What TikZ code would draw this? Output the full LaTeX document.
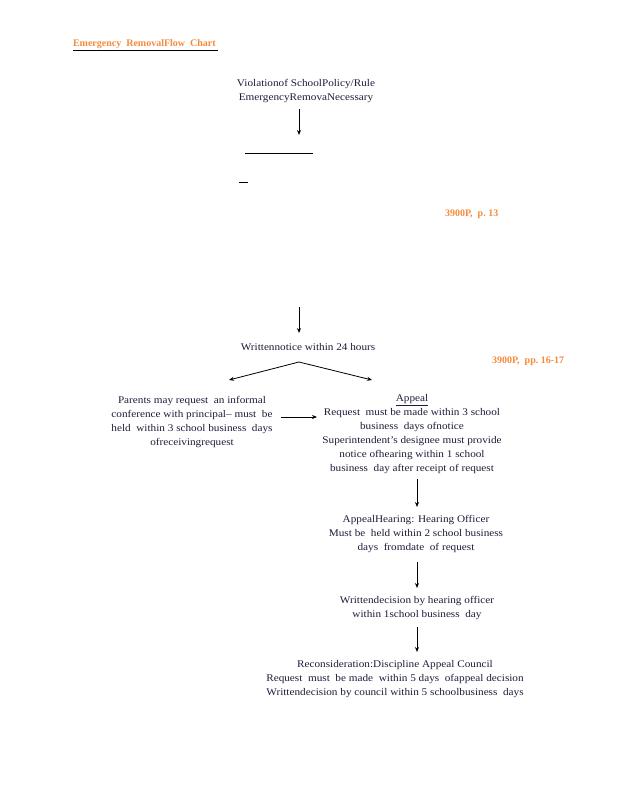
\documentclass[tikz,border=0pt]{standalone}
\usepackage{fontspec}
\setmainfont{Liberation Serif}
\newfontfamily\widefont[FakeStretch=1.1,Ligatures=TeX]{Liberation Serif}
\usetikzlibrary{arrows.meta}
\definecolor{txt}{HTML}{1C1C3A}
\definecolor{ora}{HTML}{F58A3C}
\tikzset{
  every node/.style={inner sep=0pt, outer sep=0pt},
  lbl/.style={text=txt, font=\widefont\fontsize{10.2}{14}\selectfont, align=center},
  ref/.style={text=ora, font=\fontsize{10}{14}\selectfont\bfseries, anchor=west},
  arr/.style={draw=black, line width=0.8pt, -{Stealth[length=5pt,width=4pt]}},
  rule/.style={draw=black, line width=0.8pt}
}
\begin{document}
\begin{tikzpicture}[x=1pt,y=-1pt]
\useasboundingbox (0,0) rectangle (618,800);
% title
\node[ref] (title) at (73,44) {Emergency\ \ RemovalFlow\ \ Chart};
\coordinate (tl) at (73,50.5);
\coordinate (tr) at (218,50.5);
\draw[rule] (tl) -- (tr);
% top
\node[lbl] (viol) at (306,91) {Violationof SchoolPolicy/Rule\\EmergencyRemovaNecessary};
\coordinate (a1) at (299,135);
\draw[arr] (viol.south -| a1) ++(0,6) -- (a1);
\coordinate (l1a) at (245,153);
\coordinate (l1b) at (313,153);
\draw[rule] (l1a) -- (l1b);
\coordinate (l2a) at (239,182);
\coordinate (l2b) at (248,182);
\draw[rule] (l2a) -- (l2b);
\node[ref] (ref1) at (445,214) {3900P,\ \ p.\ 13};
% written notice
\coordinate (a2s) at (299,307);
\node[lbl] (notice) at (308,347) {Writtennotice within 24 hours};
\draw[arr] (a2s) -- (299,333);
\node[ref] (ref2) at (492,361) {3900P,\ \ pp.\ 16-17};
\coordinate (apex) at (299,362);
\coordinate (lt) at (229,380);
\coordinate (rt) at (372,380);
\draw[arr] (apex) -- (lt);
\draw[arr] (apex) -- (rt);
% left block
\node[lbl] (parents) at (192,422) {Parents may request\ \ an informal\\conference with principal– must\ \ be\\held\ \ within 3 school business\ \ days\\ofreceivingrequest};
% appeal block
\node[lbl] (appeal) at (412,434) {\underline{Appeal}\\Request\ \ must be made within 3 school\\business\ \ days ofnotice\\Superintendent’s designee must provide\\notice ofhearing within 1 school\\business\ \ day after receipt of request};
\draw[arr] (281,417) -- (317,417);
% hearing
\node[lbl] (hearing) at (416,534) {AppealHearing: Hearing Officer\\Must be\ \ held within 2 school business\\days\ \ fromdate\ \ of request};
\draw[arr] (appeal.south -| 417,0) ++(0,5) -- (417,507);
% decision
\node[lbl] (decision) at (417,608) {Writtendecision by hearing officer\\within 1school business\ \ day};
\draw[arr] (417,562) -- (417,588);
% reconsideration
\node[lbl] (recon) at (395,679) {Reconsideration:Discipline Appeal Council\\Request\ \ must\ \ be made\ \ within 5 days\ \ ofappeal decision\\Writtendecision by council within 5 schoolbusiness\ \ days};
\draw[arr] (417,627) -- (417,652);
\end{tikzpicture}
\end{document}
